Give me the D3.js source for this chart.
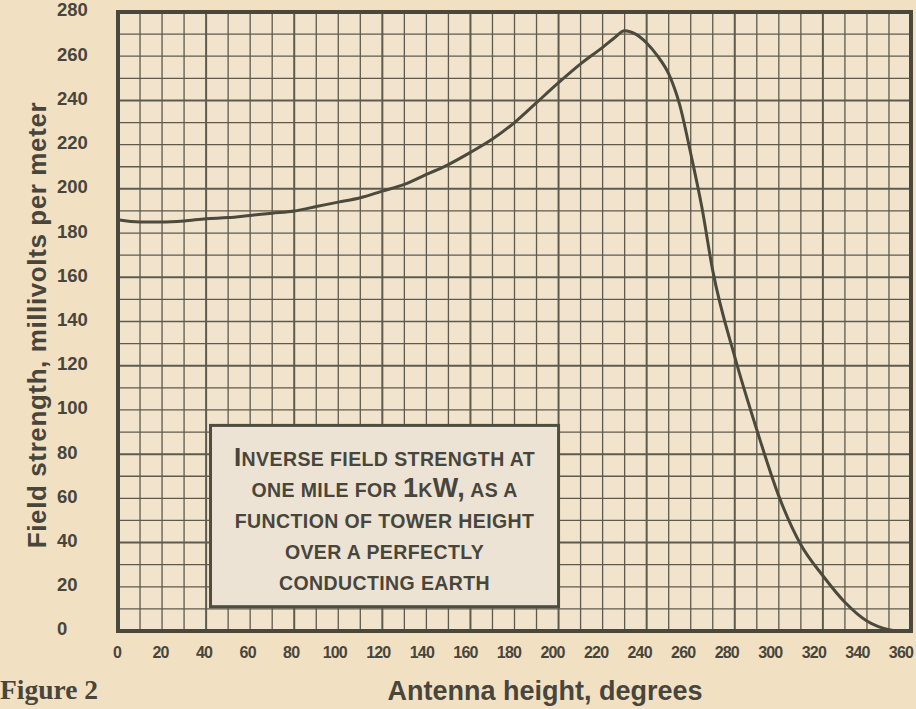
<!DOCTYPE html>
<html>
<head>
<meta charset="utf-8">
<script src="https://cdn.jsdelivr.net/npm/d3@7"></script>
<style>
  html, body { margin: 0; padding: 0; background: #f2e1c5; }
  svg { display: block; }
</style>
</head>
<body>
<div id="chart"></div>
<script>
// antenna height (degrees) vs field strength (mV/m)
const heights = [0, 10, 20, 30, 40, 50, 60, 70, 80, 90, 100, 110, 120, 130, 140, 150, 160, 170, 180,
   190, 200, 210, 220, 225, 230, 235, 240, 245, 250, 255, 260, 265, 270, 280, 290, 300, 310, 320, 330, 340, 350, 355, 360];
const fieldStrength = [186, 185, 185, 185.5, 186.5, 187, 188, 189, 190, 192, 194, 196, 199, 202, 206.5, 211, 216.5, 222.5, 230,
   239, 248, 256.5, 264, 268, 271.5, 270, 266, 260, 252, 238, 216, 192, 163, 124, 91, 61, 39, 25, 13, 4.5, 0.6, 0, 0];

const xTickLabels = [0, 20, 40, 60, 80, 100, 120, 140, 160, 180, 200, 220, 240, 260, 280, 300, 320, 340, 360];
const yTickLabels = [0, 20, 40, 60, 80, 100, 120, 140, 160, 180, 200, 220, 240, 260, 280];

const boxLines = [
   [['I', 26], ['NVERSE FIELD STRENGTH AT', 19.5]],
   [['ONE MILE FOR ', 19.5], ['1', 27], ['K', 19.5], ['W,', 27], [' AS A', 19.5]],
   [['FUNCTION OF TOWER HEIGHT', 19.5]],
   [['OVER A PERFECTLY', 19.5]],
   [['CONDUCTING EARTH', 19.5]],
];

const W = 916, H = 709;
const ink = '#48463b';
const gridInk = '#5e5b4e';

const svg = d3.select('#chart').append('svg')
   .attr('width', W).attr('height', H);

svg.append('rect').attr('width', W).attr('height', H).attr('fill', '#f2e0c3');

const x = d3.scaleLinear().domain([0, 360]).range([118, 911]);
const y = d3.scaleLinear().domain([0, 280]).range([631, 12]);
// printed labels sit a little tighter than the grid
const xLabelPos = d3.scaleLinear().domain([0, 360]).range([117, 901]);

svg.append('rect')
   .attr('x', x(0)).attr('y', y(280))
   .attr('width', x(360) - x(0)).attr('height', y(0) - y(280))
   .attr('fill', '#f1e3cc');

const grid = svg.append('g').attr('class', 'grid');
grid.selectAll('.vline')
   .data(d3.range(10, 360, 10))
   .join('line')
   .attr('class', 'vline')
   .attr('x1', d => x(d)).attr('x2', d => x(d))
   .attr('y1', y(280)).attr('y2', y(0))
   .attr('stroke', gridInk)
   .attr('stroke-width', d => d % 40 === 0 ? 2 : 1.3);
grid.selectAll('.hline')
   .data(d3.range(10, 280, 10))
   .join('line')
   .attr('class', 'hline')
   .attr('y1', d => y(d)).attr('y2', d => y(d))
   .attr('x1', x(0)).attr('x2', x(360))
   .attr('stroke', gridInk)
   .attr('stroke-width', d => d % 40 === 0 ? 2 : 1.3);

const line = d3.line()
   .x((d, i) => x(heights[i]))
   .y(d => y(d))
   .curve(d3.curveMonotoneX);

svg.append('path')
   .datum(fieldStrength)
   .attr('d', line)
   .attr('fill', 'none')
   .attr('stroke', '#4c4a3c')
   .attr('stroke-width', 3)
   .attr('stroke-linejoin', 'round');

// annotation box
const bx0 = x(42), bx1 = x(200), by0 = y(93), by1 = y(11);
svg.append('rect')
   .attr('x', bx0).attr('y', by0)
   .attr('width', bx1 - bx0).attr('height', by1 - by0)
   .attr('fill', '#ece3d4')
   .attr('stroke', '#4f4d40')
   .attr('stroke-width', 3);

const boxText = svg.append('g')
   .attr('font-family', '"Liberation Sans", Arial, sans-serif')
   .attr('font-weight', 'bold')
   .attr('fill', ink)
   .attr('letter-spacing', 0.4)
   .attr('text-anchor', 'middle');
boxLines.forEach((segs, i) => {
   const t = boxText.append('text')
      .attr('x', (bx0 + bx1) / 2)
      .attr('y', by0 + 41 + i * 31);
   segs.forEach(s => t.append('tspan').attr('font-size', s[1]).text(s[0]));
});

svg.append('rect')
   .attr('x', x(0)).attr('y', y(280))
   .attr('width', x(360) - x(0)).attr('height', y(0) - y(280))
   .attr('fill', 'none')
   .attr('stroke', '#4a483c')
   .attr('stroke-width', 4);

// tick labels
const labels = svg.append('g')
   .attr('font-family', '"Liberation Sans", Arial, sans-serif')
   .attr('font-weight', 'bold')
   .attr('fill', ink);

labels.selectAll('.ylab')
   .data(yTickLabels)
   .join('text')
   .attr('class', 'ylab')
   .attr('x', 57)
   .attr('y', d => y(d) - 2)
   .attr('dy', '0.35em')
   .attr('font-size', 18.5)
   .text(d => d);

labels.selectAll('.xlab')
   .data(xTickLabels)
   .join('text')
   .attr('class', 'xlab')
   .attr('x', d => xLabelPos(d))
   .attr('y', 658)
   .attr('text-anchor', 'middle')
   .attr('font-size', 16)
   .attr('letter-spacing', -0.8)
   .text(d => d);

// titles
labels.append('text')
   .attr('transform', 'translate(46,325) rotate(-90)')
   .attr('text-anchor', 'middle')
   .attr('font-size', 26)
   .attr('letter-spacing', 0.6)
   .text('Field strength, millivolts per meter');

labels.append('text')
   .attr('x', 545).attr('y', 700)
   .attr('text-anchor', 'middle')
   .attr('font-size', 27)
   .text('Antenna height, degrees');

svg.append('text')
   .attr('x', 0).attr('y', 699)
   .attr('font-family', '"Liberation Serif", "Times New Roman", serif')
   .attr('font-weight', 'bold')
   .attr('font-size', 27.5)
   .attr('fill', ink)
   .text('Figure 2');
</script>
</body>
</html>
